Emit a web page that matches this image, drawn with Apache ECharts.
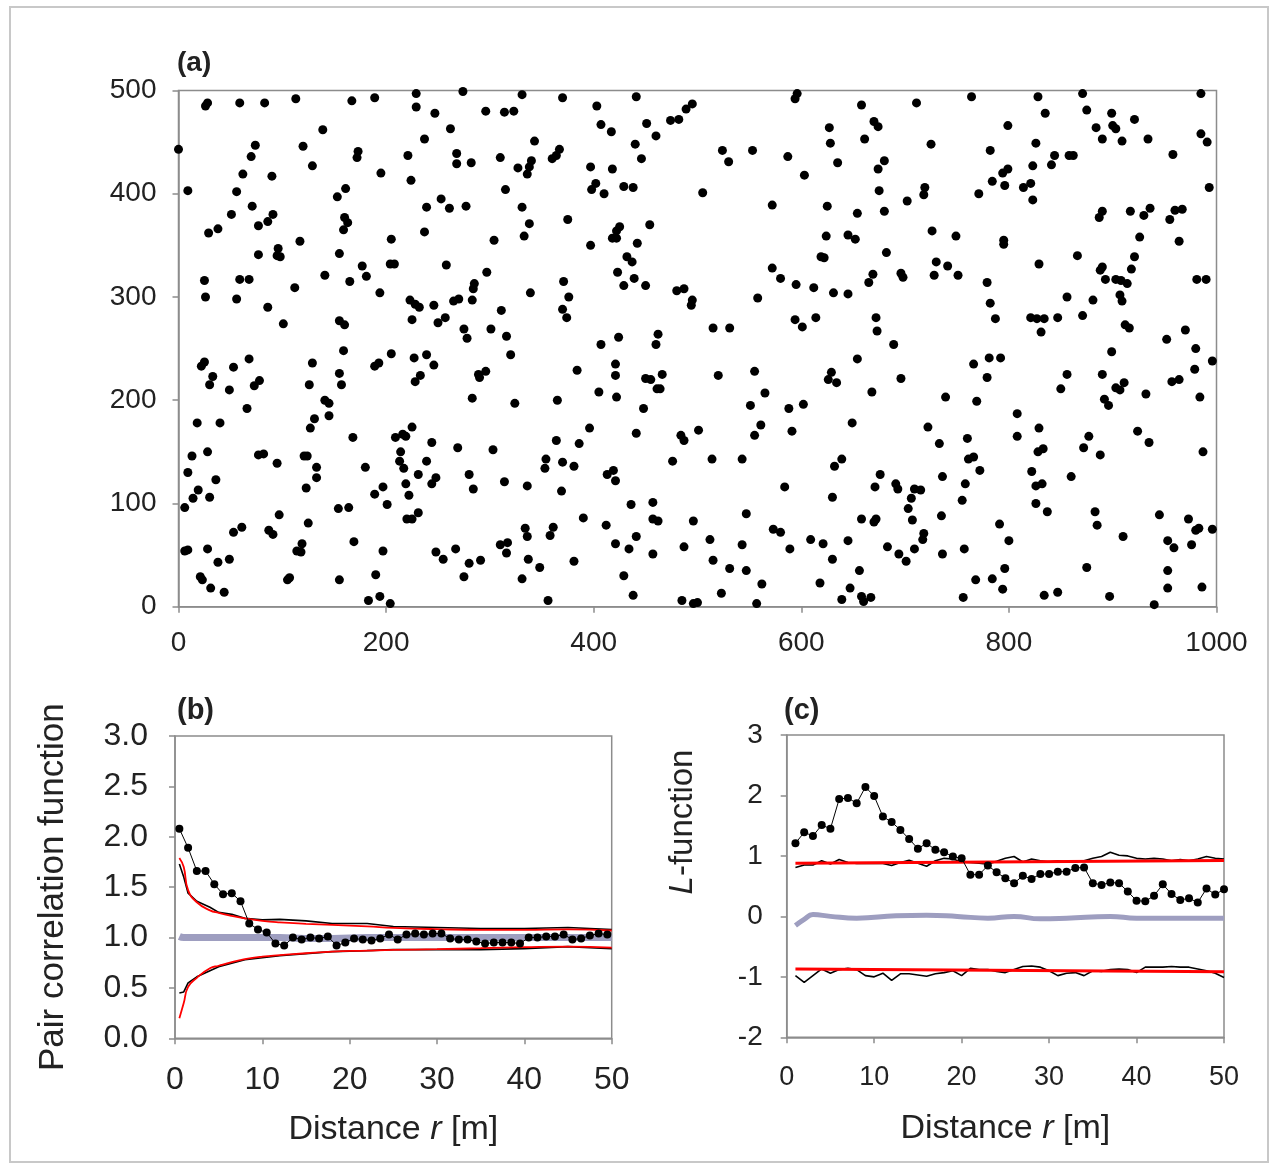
<!DOCTYPE html>
<html>
<head>
<meta charset="utf-8">
<script src="https://cdn.jsdelivr.net/npm/echarts@6/dist/echarts.min.js"></script>
<style>
html,body{margin:0;padding:0;background:#fff;}
#chart{width:1279px;height:1171px;}
</style>
</head>
<body>
<div id="chart"></div>
<script>
// ---------- Panel (a): point pattern (x, y in m) ----------
const ptsA1 = [[26,485],[28,488],[59,488],[83,488],[113,492],[167,490],[189,493],[229,497],[229,484],[139,462],[0,443],[74,447],[120,446],[70,436],[173,441],[172,435],[221,437],[237,453],[129,427],[62,419],[90,417],[195,420],[224,413],[9,403],[56,402],[153,397],[161,405],[71,388],[239,387],[51,380],[91,380],[86,373],[77,369],[160,377],[163,372],[159,365],[29,362],[38,366],[237,363],[117,354],[205,356],[96,347],[95,340],[98,339],[77,341],[155,342],[177,330],[181,320],[204,332],[208,332],[25,316],[59,317],[68,317],[141,321],[165,315],[112,309],[194,304],[26,300],[56,298],[86,290],[223,297],[228,293],[232,290],[225,278],[101,274],[155,277],[160,273]];
const ptsA2 = [[274,499],[327,501],[331,496],[366,501],[370,493],[441,494],[247,478],[296,480],[314,479],[323,480],[403,485],[489,482],[262,463],[407,467],[417,460],[451,468],[460,456],[474,471],[482,472],[343,451],[440,448],[310,435],[268,439],[268,429],[282,430],[340,432],[338,426],[336,419],[327,425],[360,434],[364,437],[367,443],[446,434],[397,426],[418,424],[315,404],[402,410],[398,404],[410,400],[429,407],[438,406],[253,395],[261,386],[277,388],[331,387],[375,375],[338,371],[333,359],[304,355],[425,368],[422,364],[418,357],[422,357],[454,370],[442,352],[397,350],[258,331],[297,324],[432,339],[437,334],[423,324],[439,318],[450,311],[429,311],[285,313],[284,308],[283,297],[270,298],[265,296],[339,304],[371,315],[376,300],[370,288],[374,280],[311,287],[480,306],[487,308],[246,292],[250,275],[257,280],[275,269],[278,260],[301,269],[316,262],[424,261],[462,264]];
const ptsA3 = [[495,487],[596,497],[594,492],[658,486],[711,488],[670,470],[674,465],[627,464],[628,449],[661,453],[725,448],[524,442],[530,431],[553,442],[587,436],[635,430],[680,432],[674,424],[603,418],[505,401],[572,389],[625,388],[675,403],[719,406],[718,399],[702,393],[654,381],[680,383],[624,359],[645,360],[652,356],[726,364],[682,343],[619,339],[622,338],[572,328],[580,318],[595,312],[612,309],[631,304],[645,303],[669,322],[665,314],[696,323],[698,319],[730,334],[741,330],[728,321],[495,297],[494,292],[558,299],[594,278],[601,271],[614,280],[515,270],[531,270],[672,280],[673,267]];
const ptsA4 = [[764,494],[828,494],[871,497],[878,501],[985,497],[835,478],[875,481],[899,478],[921,472],[799,466],[884,464],[900,466],[903,463],[890,453],[909,451],[934,453],[985,458],[991,450],[782,442],[826,449],[844,437],[841,428],[858,437],[862,437],[823,427],[958,438],[799,424],[794,420],[784,412],[796,408],[814,406],[821,410],[771,400],[823,394],[993,406],[890,383],[887,377],[917,383],[930,379],[936,386],[955,375],[960,384],[967,385],[749,359],[795,355],[795,351],[926,358],[964,354],[866,340],[829,332],[751,321],[921,339],[890,329],[888,326],[918,327],[893,317],[903,317],[908,316],[914,313],[779,314],[981,317],[990,317],[856,300],[881,297],[907,302],[909,296],[782,294],[787,279],[821,280],[827,279],[834,279],[847,280],[871,282],[831,266],[912,273],[916,270],[952,259],[970,268]];
const ptsA5 = [[22,233],[25,237],[53,232],[68,240],[33,223],[30,215],[49,210],[73,214],[78,219],[66,192],[18,178],[40,178],[129,236],[126,215],[155,226],[157,215],[159,248],[189,233],[193,236],[205,245],[227,241],[239,244],[228,218],[233,224],[141,200],[145,197],[145,185],[131,182],[127,173],[168,164],[13,146],[28,150],[9,130],[36,123],[19,113],[14,105],[30,106],[6,96],[77,147],[82,148],[95,139],[121,146],[124,146],[133,135],[133,125],[123,115],[180,135],[209,164],[216,167],[219,165],[225,174],[214,150],[213,141],[217,134],[219,119],[222,108],[239,141],[231,128],[189,109],[197,116],[201,99],[154,95],[164,96],[125,81],[97,89],[53,72],[61,77],[87,74],[91,70],[220,85],[225,85],[231,91],[6,54],[9,55],[28,56],[38,43],[49,46],[21,29],[23,26],[31,18],[44,14],[114,54],[118,53],[119,61],[105,26],[107,28],[155,26],[169,63],[197,54],[190,31],[183,6],[194,10],[204,3]];
const ptsA6 = [[460,254],[407,254],[246,234],[320,244],[289,225],[296,228],[290,222],[283,202],[324,197],[365,200],[384,229],[421,235],[421,224],[405,208],[422,203],[450,221],[455,220],[461,211],[464,211],[466,225],[448,192],[244,159],[269,154],[303,152],[396,173],[364,161],[386,158],[441,168],[484,166],[487,161],[476,141],[354,143],[353,134],[370,140],[381,136],[413,128],[419,132],[421,122],[248,125],[244,119],[280,128],[284,114],[314,121],[336,117],[369,112],[436,99],[457,101],[457,85],[462,83],[390,86],[412,79],[334,76],[336,68],[361,77],[358,69],[310,60],[317,62],[316,52],[248,53],[255,46],[267,56],[280,42],[291,45],[337,46],[348,38],[381,44],[421,61],[434,56],[441,68],[457,51],[487,58],[275,29],[331,27],[429,30],[438,11],[356,6],[485,6]];
const ptsA7 = [[689,254],[654,240],[520,224],[555,228],[565,207],[551,195],[588,192],[602,196],[629,227],[626,220],[634,217],[668,208],[696,221],[739,203],[501,171],[561,176],[555,166],[591,170],[649,178],[722,174],[733,158],[514,143],[543,143],[639,143],[632,136],[676,128],[671,116],[691,119],[693,114],[709,114],[715,113],[706,105],[703,95],[707,84],[736,126],[735,88],[584,116],[630,106],[496,83],[547,90],[658,85],[670,82],[672,85],[573,75],[580,72],[512,65],[543,60],[589,56],[609,65],[621,61],[645,64],[683,58],[718,71],[717,65],[709,56],[694,51],[701,44],[736,51],[515,45],[531,37],[547,35],[630,46],[656,35],[562,22],[523,13],[618,23],[647,18],[639,7],[658,10],[660,5],[667,9],[557,3],[496,3],[500,4]];
const ptsA8 = [[899,247],[980,250],[766,235],[781,241],[792,241],[779,222],[769,199],[856,225],[850,211],[890,225],[903,212],[907,210],[911,217],[892,201],[896,195],[932,206],[957,218],[964,220],[979,230],[984,203],[996,238],[808,187],[808,165],[829,173],[828,150],[833,153],[877,165],[872,154],[888,147],[924,170],[935,159],[987,150],[760,163],[761,143],[766,145],[772,132],[758,119],[755,103],[822,131],[826,117],[832,119],[826,100],[837,92],[860,126],[883,92],[885,79],[910,68],[945,89],[973,85],[980,74],[983,76],[996,75],[953,64],[959,57],[976,60],[791,80],[800,64],[757,56],[796,37],[768,26],[784,27],[794,17],[756,9],[834,11],[847,14],[875,38],[897,10],[953,35],[953,18],[986,19],[940,2]];

// ---------- Panel (b): pair correlation function ----------
const rB = [0.5,1.5,2.5,3.5,4.5,5.5,6.5,7.5,8.5,9.5,10.5,11.5,12.5,13.5,14.5,15.5,16.5,17.5,18.5,19.5,20.5,21.5,22.5,23.5,24.5,25.5,26.5,27.5,28.5,29.5,30.5,31.5,32.5,33.5,34.5,35.5,36.5,37.5,38.5,39.5,40.5,41.5,42.5,43.5,44.5,45.5,46.5,47.5,48.5,49.5];
const gObserved = [2.08,1.89,1.66,1.66,1.53,1.43,1.44,1.36,1.14,1.08,1.05,0.94,0.92,1.00,0.98,1.00,0.99,1.01,0.92,0.95,0.99,0.98,0.97,0.99,1.03,0.98,1.03,1.04,1.03,1.04,1.04,0.99,0.98,0.98,0.96,0.94,0.95,0.95,0.95,0.94,1.00,1.00,1.01,1.01,1.03,0.98,0.99,1.02,1.04,1.03];
const rEnvB = [0.5,1,1.5,2.5,4,5,6.5,8,10,12,15,18,22,25,30,35,40,45,50];
const gSimUpper = [1.73,1.60,1.44,1.36,1.30,1.25,1.23,1.19,1.175,1.18,1.165,1.14,1.14,1.11,1.10,1.09,1.09,1.10,1.08];
const gSimLower = [0.45,0.46,0.55,0.61,0.67,0.71,0.745,0.78,0.80,0.82,0.84,0.86,0.87,0.88,0.88,0.88,0.89,0.91,0.89];
const gTheoUpper = [1.79,1.70,1.47,1.35,1.27,1.245,1.215,1.19,1.165,1.15,1.136,1.125,1.11,1.096,1.083,1.076,1.076,1.08,1.07];
const gTheoLower = [0.20,0.35,0.51,0.60,0.695,0.72,0.755,0.785,0.81,0.825,0.844,0.86,0.87,0.877,0.884,0.894,0.904,0.91,0.90];
const gExpected = [1.01,1.00,1.00,1.00,1.00,1.00,1.00,1.00,1.00,1.00,0.99,0.99,1.00,1.00,1.00,1.00,1.00,1.00,1.00];

// ---------- Panel (c): L-function ----------
const rC = [1,2,3,4,5,6,7,8,9,10,11,12,13,14,15,16,17,18,19,20,21,22,23,24,25,26,27,28,29,30,31,32,33,34,35,36,37,38,39,40,41,42,43,44,45,46,47,48,49,50];
const lObserved = [1.21,1.39,1.33,1.51,1.45,1.94,1.96,1.87,2.14,1.99,1.65,1.56,1.43,1.28,1.12,1.21,1.10,1.06,0.99,0.96,0.69,0.69,0.84,0.73,0.63,0.55,0.67,0.62,0.70,0.70,0.74,0.74,0.80,0.81,0.55,0.52,0.56,0.55,0.41,0.26,0.25,0.34,0.53,0.37,0.27,0.30,0.23,0.46,0.36,0.45];
const lSimUpper = [0.81,0.85,0.85,0.92,0.865,0.94,0.89,0.875,0.88,0.875,0.875,0.84,0.89,0.93,0.88,0.83,0.92,0.96,0.95,0.90,0.89,0.88,0.865,0.91,0.96,0.99,0.90,0.95,0.92,0.90,0.92,0.90,0.90,0.92,0.96,0.99,1.06,1.01,1.00,0.96,0.95,0.96,0.95,0.92,0.94,0.92,0.95,0.99,0.96,0.95];
const lSimLower = [-0.98,-1.09,-0.98,-0.87,-0.94,-0.88,-0.86,-0.88,-0.98,-1.00,-0.94,-1.06,-0.95,-0.95,-0.97,-0.99,-0.95,-0.93,-0.90,-0.98,-0.86,-0.88,-0.88,-0.91,-0.93,-0.88,-0.83,-0.82,-0.84,-0.90,-0.98,-0.94,-0.93,-0.98,-0.90,-0.91,-0.88,-0.87,-0.88,-0.93,-0.84,-0.84,-0.84,-0.83,-0.84,-0.84,-0.87,-0.90,-0.94,-1.01];
const rTheoC = [1,50];
const lTheoUpper = [0.88,0.925];
const lTheoLower = [-0.87,-0.915];
const rExpC = [1,2,3,5,8,12.5,16,19.5,23,26,29,32,37,40,50];
const lExpected = [-0.15,-0.05,0.03,0.0,-0.03,0.01,0.02,0.0,-0.03,0.0,-0.04,-0.03,0.0,-0.03,-0.03];

// ---------- tick label lists ----------
const ticksAx = [0,200,400,600,800,1000];
const ticksAy = [0,100,200,300,400,500];
const ticksBy = ['0.0','0.5','1.0','1.5','2.0','2.5','3.0'];
const ticksCy = [-2,-1,0,1,2,3];

const FONT = '"Liberation Sans", Arial, Helvetica, sans-serif';
const AX = '#8c8c8c';
const LBL = '#222';
const zip = (xs, ys) => xs.map((x, i) => [x, ys[i]]);

function valAxis(grid, min, max, interval, fs, margin, extra) {
  return Object.assign({
    type: 'value', gridIndex: grid, min: min, max: max, interval: interval,
    axisLine: { show: true, onZero: false, lineStyle: { color: AX, width: 1.5 } },
    axisTick: { show: true, length: 6, lineStyle: { color: AX, width: 1.5 } },
    axisLabel: { fontFamily: FONT, fontSize: fs, color: LBL, margin: margin, formatter: v => String(v) },
    splitLine: { show: false }
  }, extra || {});
}

const chart = echarts.init(document.getElementById('chart'), null, { renderer: 'canvas' });

const grids = [
  { left: 178.5, top: 90.5, width: 1038, height: 516.2 },
  { left: 175, top: 736, width: 436.7, height: 302.3 },
  { left: 786.7, top: 735, width: 437.3, height: 302.3 }
].map(g => Object.assign(g, { show: true, borderColor: AX, borderWidth: 1.5, backgroundColor: 'transparent' }));

const richName = {
  i: { fontFamily: FONT, fontSize: 34, fontStyle: 'italic', color: LBL }
};

const option = {
  animation: false,
  backgroundColor: '#fff',
  grid: grids,
  xAxis: [
    valAxis(0, ticksAx[0], ticksAx[ticksAx.length - 1], 200, 28, 23),
    valAxis(1, 0, 50, 10, 32, 26, {
      name: 'Distance {i|r} [m]', nameLocation: 'middle', nameGap: 74,
      nameTextStyle: { fontFamily: FONT, fontSize: 34, color: LBL, rich: richName }
    }),
    valAxis(2, 0, 50, 10, 27, 27, {
      name: 'Distance {i|r} [m]', nameLocation: 'middle', nameGap: 74,
      nameTextStyle: { fontFamily: FONT, fontSize: 34, color: LBL, rich: richName }
    })
  ],
  yAxis: [
    valAxis(0, ticksAy[0], ticksAy[ticksAy.length - 1], 100, 28, 22),
    valAxis(1, 0, 3, 0.5, 32, 27, {
      axisLabel: { fontFamily: FONT, fontSize: 32, color: LBL, margin: 27,
        formatter: v => ticksBy[Math.round(v / 0.5)] },
      name: 'Pair correlation function', nameLocation: 'middle', nameGap: 104,
      nameTextStyle: { fontFamily: FONT, fontSize: 35, color: LBL }
    }),
    valAxis(2, ticksCy[0], ticksCy[ticksCy.length - 1], 1, 28, 24)
  ],
  graphic: [
    { type: 'rect', shape: { x: 10, y: 7, width: 1258, height: 1155 },
      style: { fill: 'none', stroke: '#c8c8c8', lineWidth: 2 }, silent: true },
    { type: 'text', left: 177, top: 49, style: { text: '(a)', font: 'bold 28px ' + FONT, fill: '#222' } },
    { type: 'text', left: 177, top: 696, style: { text: '(b)', font: 'bold 29px ' + FONT, fill: '#222' } },
    { type: 'text', left: 784, top: 696, style: { text: '(c)', font: 'bold 29px ' + FONT, fill: '#222' } },
    { type: 'text', x: 683, y: 822, rotation: Math.PI / 2,
      style: { text: '{i|L}-function', font: '33px ' + FONT, fill: LBL, align: 'center', verticalAlign: 'middle',
        rich: { i: { font: 'italic 33px ' + FONT, fill: LBL } } } }
  ],
  series: [
    { type: 'scatter', xAxisIndex: 0, yAxisIndex: 0, symbol: 'circle', symbolSize: 9,
      itemStyle: { color: '#000', opacity: 1 },
      data: [].concat(ptsA1, ptsA2, ptsA3, ptsA4, ptsA5, ptsA6, ptsA7, ptsA8) },

    // panel b
    { type: 'line', xAxisIndex: 1, yAxisIndex: 1, showSymbol: false, smooth: true,
      lineStyle: { color: '#9e9ec0', width: 7 }, data: zip(rEnvB, gExpected) },
    { type: 'line', xAxisIndex: 1, yAxisIndex: 1, showSymbol: false,
      lineStyle: { color: '#000', width: 1.6 }, data: zip(rEnvB, gSimUpper) },
    { type: 'line', xAxisIndex: 1, yAxisIndex: 1, showSymbol: false,
      lineStyle: { color: '#000', width: 1.6 }, data: zip(rEnvB, gSimLower) },
    { type: 'line', xAxisIndex: 1, yAxisIndex: 1, showSymbol: false, smooth: true,
      lineStyle: { color: '#ff0000', width: 1.8 }, data: zip(rEnvB, gTheoUpper) },
    { type: 'line', xAxisIndex: 1, yAxisIndex: 1, showSymbol: false, smooth: true,
      lineStyle: { color: '#ff0000', width: 1.8 }, data: zip(rEnvB, gTheoLower) },
    { type: 'line', xAxisIndex: 1, yAxisIndex: 1, symbol: 'circle', symbolSize: 8, showAllSymbol: true,
      lineStyle: { color: '#000', width: 1 }, itemStyle: { color: '#000' }, data: zip(rB, gObserved) },

    // panel c
    { type: 'line', xAxisIndex: 2, yAxisIndex: 2, showSymbol: false, smooth: true,
      lineStyle: { color: '#9e9ec0', width: 5 }, data: zip(rExpC, lExpected) },
    { type: 'line', xAxisIndex: 2, yAxisIndex: 2, showSymbol: false,
      lineStyle: { color: '#000', width: 1.6 }, data: zip(rC, lSimUpper) },
    { type: 'line', xAxisIndex: 2, yAxisIndex: 2, showSymbol: false,
      lineStyle: { color: '#000', width: 1.6 }, data: zip(rC, lSimLower) },
    { type: 'line', xAxisIndex: 2, yAxisIndex: 2, showSymbol: false,
      lineStyle: { color: '#ff0000', width: 3 }, data: zip(rTheoC, lTheoUpper) },
    { type: 'line', xAxisIndex: 2, yAxisIndex: 2, showSymbol: false,
      lineStyle: { color: '#ff0000', width: 3 }, data: zip(rTheoC, lTheoLower) },
    { type: 'line', xAxisIndex: 2, yAxisIndex: 2, symbol: 'circle', symbolSize: 8, showAllSymbol: true,
      lineStyle: { color: '#000', width: 1 }, itemStyle: { color: '#000' }, data: zip(rC, lObserved) }
  ]
};
chart.setOption(option);
</script>
</body>
</html>
